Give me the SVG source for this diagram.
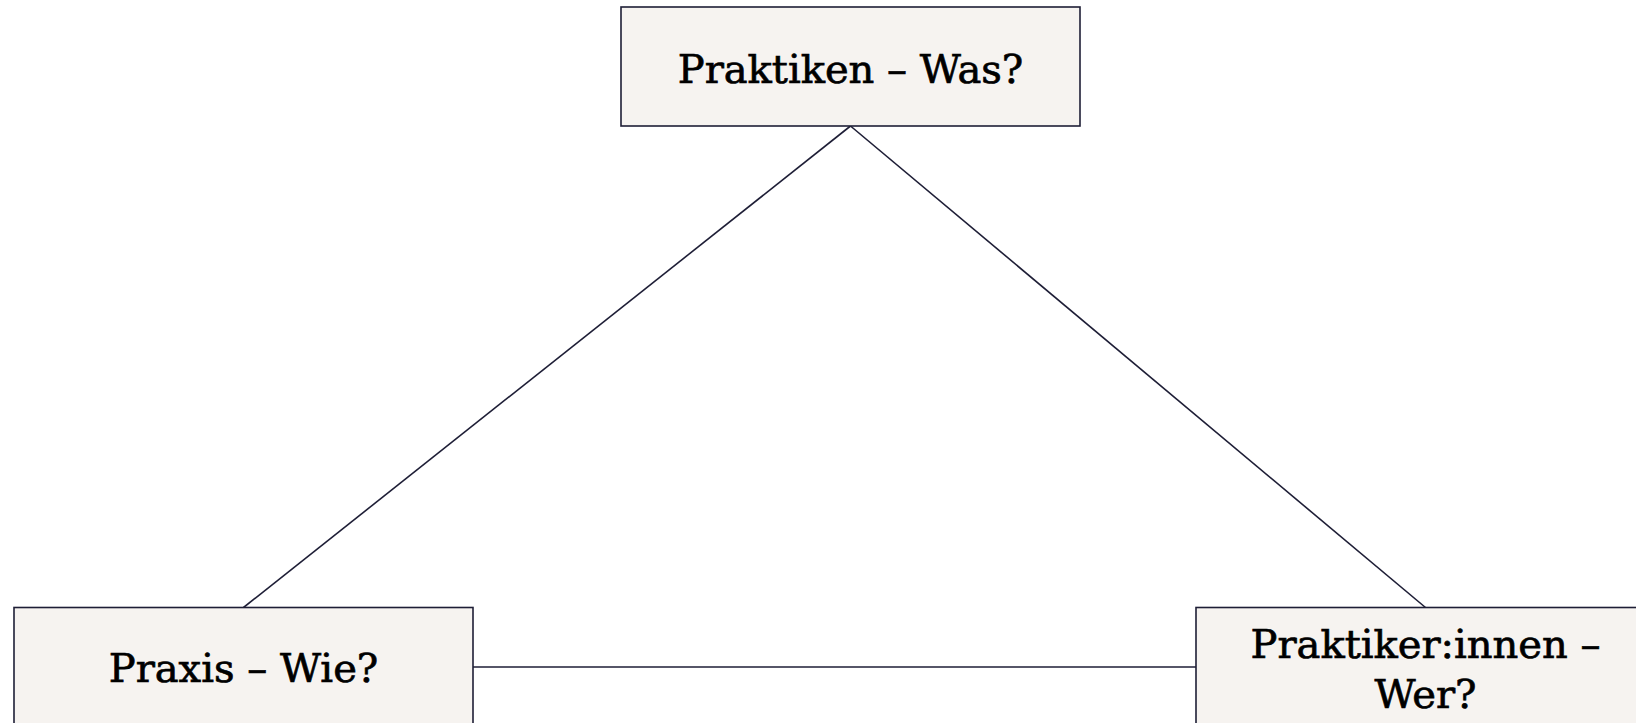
<svg xmlns="http://www.w3.org/2000/svg" width="1636" height="723" viewBox="0 0 1636 723">
  <style>
    .box { fill: #f6f3f0; stroke: #1e1e36; stroke-width: 1.6; }
    .link { stroke: #1e1e36; stroke-width: 1.6; fill: none; }
    .label { font-family: "DejaVu Serif", "Liberation Serif", serif; font-size: 40px; fill: #000; stroke: #000; stroke-width: 0.7; text-anchor: middle; }
  </style>
  <rect width="1636" height="723" fill="#ffffff"/>
  <g id="connectors">
    <line class="link" x1="850.5" y1="126" x2="243.5" y2="607.5"/>
    <line class="link" x1="850.5" y1="126" x2="1425.5" y2="607.5"/>
    <line class="link" x1="473" y1="667" x2="1196" y2="667"/>
  </g>
  <g id="node-praktiken">
    <rect class="box" x="621" y="7" width="459" height="119"/>
    <text class="label" x="850.5" y="83">Praktiken – Was?</text>
  </g>
  <g id="node-praxis">
    <rect class="box" x="14" y="607.5" width="459" height="119"/>
    <text class="label" x="243.5" y="682">Praxis – Wie?</text>
  </g>
  <g id="node-praktikerinnen">
    <rect class="box" x="1196" y="607.5" width="459" height="119"/>
    <text class="label" x="1425.5" y="658">Praktiker:innen –</text>
    <text class="label" x="1425.5" y="708">Wer?</text>
  </g>
</svg>
